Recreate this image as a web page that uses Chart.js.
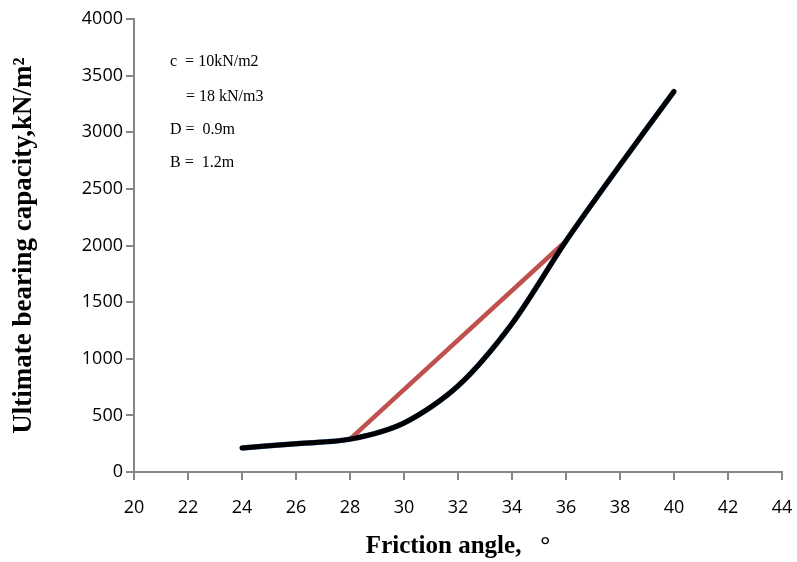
<!DOCTYPE html>
<html>
<head>
<meta charset="utf-8">
<script src="https://cdn.jsdelivr.net/npm/chart.js@4/dist/chart.umd.min.js"></script>
<style>
  html,body{margin:0;padding:0;background:#fff;}
  #wrap{width:797px;height:562px;position:relative;}
</style>
</head>
<body>
<div id="wrap"><canvas id="grafico" width="797" height="562"></canvas></div>
<script>
const angulos = [24, 26, 28, 30, 32, 34, 36, 38, 40];
const curvaPreta = [212, 250, 290, 433, 760, 1310, 2040, 2710, 3360];
const curvaAzul = [212, 250, 290, 433, 760, 1310, 2040, 2710, 3360];
const retaVermelha = [null, null, 290, null, null, null, 2040, null, null];
const xTicks = [20, 22, 24, 26, 28, 30, 32, 34, 36, 38, 40, 42, 44];
const notas = ["c  = 10kN/m2", "    = 18 kN/m3", "D =  0.9m", "B =  1.2m"];

const pontos = arr => angulos.map((a,i)=>({x:a, y:arr[i]})).filter(p=>p.y!==null);

const textos = {
  id:"textos",
  afterDraw(chart){
    const ctx = chart.ctx;
    ctx.save();
    ctx.fillStyle = "#000";
    ctx.font = "16px 'Liberation Serif'";
    ctx.textBaseline = "middle";
    const ys = [62, 97, 130, 163];
    notas.forEach((t,i)=>ctx.fillText(t, 170, ys[i]));
    ctx.restore();
  }
};

new Chart(document.getElementById("grafico"), {
  type:"line",
  data:{
    datasets:[
      {data:pontos(retaVermelha), borderColor:"#c0504d", borderWidth:4.5, pointRadius:0, tension:0, order:3},
      {data:pontos(curvaAzul), borderColor:"#4f81bd", borderWidth:5.5, pointRadius:0, tension:0.3, order:2},
      {data:pontos(curvaPreta), borderColor:"#000", borderWidth:5, pointRadius:0, tension:0.3, borderCapStyle:"round", order:1}
    ]
  },
  options:{
    responsive:false,
    animation:false,
    layout:{padding:{top:19, right:15, bottom:0, left:0}},
    plugins:{legend:{display:false}, tooltip:{enabled:false}},
    scales:{
      x:{
        type:"linear", min:20, max:44,
        afterBuildTicks: s => { s.ticks = xTicks.map(v=>({value:v})); },
        afterFit: s => { s.height = 90; s.paddingRight = 0; s.paddingLeft = 0; },
        grid:{display:true, drawOnChartArea:false, drawTicks:true, tickLength:8, color:"#868686", lineWidth:2},
        border:{color:"#868686", width:2},
        ticks:{color:"#000", font:{family:"'Open Sans'", size:18}, padding:17, maxRotation:0},
        title:{display:true, text:"Friction angle,   °", color:"#000", font:{family:"'Liberation Serif'", size:25, weight:"bold"}, padding:{top:0, bottom:0}}
      },
      y:{
        min:0, max:4000,
        afterFit: s => { s.width = 134; },
        ticks:{stepSize:500, color:"#000", font:{family:"'Open Sans'", size:18}, padding:3, callback:v=>String(v)},
        grid:{display:true, drawOnChartArea:false, drawTicks:true, tickLength:8, color:"#868686", lineWidth:2},
        border:{color:"#868686", width:2},
        title:{display:true, text:"Ultimate bearing capacity,kN/m²", color:"#000", font:{family:"'Liberation Serif'", size:27, weight:"bold"}, padding:{top:8, bottom:0}}
      }
    }
  },
  plugins:[textos]
});
</script>
</body>
</html>
